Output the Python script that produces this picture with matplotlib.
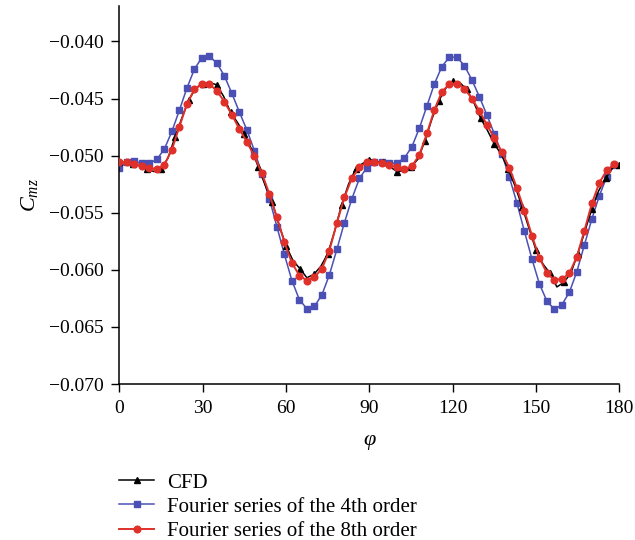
import numpy as np
import matplotlib
matplotlib.use('Agg')
import matplotlib.pyplot as plt
from matplotlib.ticker import FuncFormatter

plt.rcParams['font.family'] = ['Liberation Serif', 'DejaVu Serif']
plt.rcParams['mathtext.fontset'] = 'custom'
plt.rcParams['mathtext.rm'] = 'Liberation Serif'
plt.rcParams['mathtext.it'] = 'Liberation Serif:italic'

# CFD, sampled every 2.5 deg (triangles every 5 deg)
phi_cfd = np.arange(73) * 2.5
cmz_cfd = [-0.0506, -0.0506, -0.0507, -0.0509, -0.0512, -0.0514, -0.0512, -0.0502,
           -0.0484, -0.0467, -0.0451, -0.0441, -0.0437, -0.0436, -0.0438, -0.0448,
           -0.0462, -0.0471, -0.0481, -0.0494, -0.0510, -0.0526, -0.0541, -0.0561,
           -0.0579, -0.0592, -0.0599, -0.0607, -0.0604, -0.0597, -0.0586, -0.0566,
           -0.0543, -0.0525, -0.0512, -0.0507, -0.0504, -0.0505, -0.0506, -0.0510,
           -0.0514, -0.0513, -0.0510, -0.0503, -0.0487, -0.0468, -0.0452, -0.0441,
           -0.0435, -0.0436, -0.0442, -0.0453, -0.0467, -0.0478, -0.0490, -0.0499,
           -0.0512, -0.0527, -0.0545, -0.0564, -0.0583, -0.0595, -0.0603, -0.0615,
           -0.0611, -0.0603, -0.0586, -0.0567, -0.0547, -0.0531, -0.0520, -0.0511,
           -0.0508]

# Fourier fits, sampled every 2.7 deg
phi_fit = np.arange(67) * 2.7
cmz_4th = [-0.05112, -0.05053, -0.05051, -0.05068, -0.05068, -0.05033, -0.04942, -0.04788,
           -0.04602, -0.04409, -0.04243, -0.04142, -0.04130, -0.04191, -0.04302, -0.04456,
           -0.04619, -0.04776, -0.04957, -0.05158, -0.05380, -0.05622, -0.05866, -0.06094,
           -0.06262, -0.06341, -0.06321, -0.06219, -0.06044, -0.05820, -0.05587, -0.05377,
           -0.05200, -0.05105, -0.05056, -0.05059, -0.05068, -0.05065, -0.05021, -0.04922,
           -0.04759, -0.04566, -0.04372, -0.04220, -0.04138, -0.04138, -0.04212, -0.04337,
           -0.04485, -0.04645, -0.04811, -0.04986, -0.05190, -0.05414, -0.05663, -0.05904,
           -0.06123, -0.06274, -0.06347, -0.06306, -0.06196, -0.06015, -0.05782, -0.05554,
           -0.05350, -0.05184, -0.05080]
cmz_8th = [-0.05059, -0.05053, -0.05073, -0.05094, -0.05112, -0.05117, -0.05080, -0.04948,
           -0.04747, -0.04549, -0.04421, -0.04369, -0.04374, -0.04433, -0.04529, -0.04643,
           -0.04768, -0.04880, -0.05005, -0.05156, -0.05336, -0.05540, -0.05759, -0.05939,
           -0.06050, -0.06094, -0.06065, -0.05991, -0.05831, -0.05589, -0.05365, -0.05198,
           -0.05103, -0.05059, -0.05053, -0.05065, -0.05082, -0.05103, -0.05117, -0.05094,
           -0.04992, -0.04806, -0.04599, -0.04441, -0.04374, -0.04369, -0.04413, -0.04500,
           -0.04608, -0.04730, -0.04846, -0.04972, -0.05108, -0.05283, -0.05482, -0.05700,
           -0.05895, -0.06030, -0.06087, -0.06082, -0.06030, -0.05884, -0.05657, -0.05418,
           -0.05237, -0.05126, -0.05074]

fig = plt.figure(figsize=(6.35, 5.4), dpi=100)
ax = fig.add_axes([119.4 / 635, 1 - 384 / 540, 500 / 635, 378 / 540])

ax.plot(phi_cfd, cmz_cfd, color='black', lw=1.1, marker='^', ms=5, markevery=2,
        label='CFD', zorder=3)
ax.plot(phi_fit, cmz_4th, color='#4a50b4', lw=1.1, marker='s', ms=4.3,
        label='Fourier series of the 4th order', zorder=2)
ax.plot(phi_fit, cmz_8th, color='#e0302a', lw=1.4, marker='o', ms=4.8,
        label='Fourier series of the 8th order', zorder=4)

ax.set_xlim(0, 180)
ax.set_ylim(-0.070, -0.0369)
ax.set_xticks([0, 30, 60, 90, 120, 150, 180])
ax.set_yticks([-0.070, -0.065, -0.060, -0.055, -0.050, -0.045, -0.040])
ax.yaxis.set_major_formatter(FuncFormatter(lambda v, p: f'{v:.3f}'.replace('-', '\u2212')))
ax.tick_params(labelsize=14, length=5.5, width=1, direction='out', pad=6)
for s in ['top', 'right']:
    ax.spines[s].set_visible(False)
for s in ['left', 'bottom']:
    ax.spines[s].set_linewidth(1.1)

ax.set_xlabel('φ', fontsize=16, style='italic', labelpad=10)
ax.set_ylabel('$C_{mz}$', fontsize=16, labelpad=6)

fig.legend(loc='upper left', bbox_to_anchor=(119 / 635, 1 - 473 / 540),
           frameon=False, fontsize=15, handlelength=1.7, handletextpad=0.6,
           labelspacing=0.22, borderpad=0, borderaxespad=0)

fig.savefig('out.png', dpi=100)
